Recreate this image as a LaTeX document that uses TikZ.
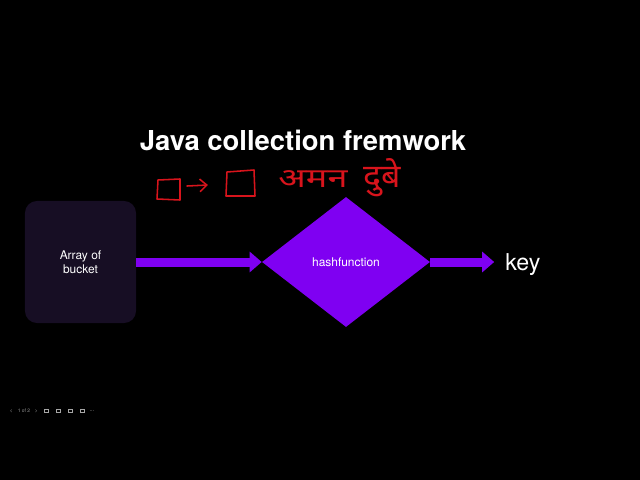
\documentclass[tikz,border=0pt]{standalone}
\usepackage{fontspec}
\setmainfont{TeX Gyre Heros}
\newfontfamily\devfont[Script=Devanagari]{Noto Sans}
\usetikzlibrary{shapes.geometric,arrows.meta}
\definecolor{bucketfill}{HTML}{170E24}
\definecolor{hashviolet}{HTML}{7F00F2}
\definecolor{inkred}{HTML}{D8141C}
\tikzset{
  fatarrow/.style={hashviolet, line width=6.4pt,
    -{Triangle[length=0.3cm, width=0.5cm]}},
  redink/.style={inkred, line width=1.1pt, line cap=round, line join=round},
  smalllabel/.style={text=white, font=\fontsize{8.5}{10}\selectfont, align=center}
}
\begin{document}
\begin{tikzpicture}[x=0.025cm, y=-0.025cm]
  \fill[black] (0,0) rectangle (640,480);
  \useasboundingbox (0,0) rectangle (640,480);
  % title
  \node[text=white, font=\fontsize{19.5}{22}\selectfont\bfseries] (title) at (303,140)
    {Java collection fremwork};
  % red handwriting
  \draw[redink] (158,180) -- (157,199) -- (180,200) -- (180,179) -- cycle;
  \draw[redink, -{Straight Barb[length=5pt, width=9pt]}] (187,186) -- (208,185);
  \draw[redink] (227,172) -- (226,196) -- (255,196) -- (254,170) -- cycle;
  \node[text=inkred, font=\devfont\fontsize{19}{22}\selectfont, xscale=1.35]
    (firstname) at (313,179) {अमन};
  \node[text=inkred, font=\devfont\fontsize{23}{25}\selectfont, xscale=1.05]
    (lastname) at (382,178) {दुबे};
  % diagram
  \node[rectangle, rounded corners=0.3cm, fill=bucketfill, minimum width=2.775cm,
    minimum height=3.05cm, smalllabel] (bucket) at (80.5,262) {Array of\\bucket};
  \node[diamond, fill=hashviolet, inner sep=0pt, minimum width=4.2cm,
    minimum height=3.25cm, smalllabel] (hash) at (346,262) {hashfunction};
  \node[text=white, inner sep=0pt, font=\fontsize{16.5}{18}\selectfont,
    anchor=west] (key) at (505,265) {key};
  \draw[fatarrow] (bucket.east) -- (hash.west);
  \draw[fatarrow, shorten >=0.27cm] (hash.east) -- (key.west |- hash.east);
  % viewer toolbar
  \node[text=black!40, font=\fontsize{3.5}{4}\selectfont, anchor=west] (pager) at (5,411)
    {<\quad 1 of 2\quad >};
  \foreach \x in {44,56,68,80} {
    \draw[black!35, line width=0.2pt] (\x,409.5) rectangle (\x+4.5,412.5);
  }
  \node[text=black!40, font=\fontsize{4}{4}\selectfont] (more) at (92,411) {...};
\end{tikzpicture}
\end{document}
